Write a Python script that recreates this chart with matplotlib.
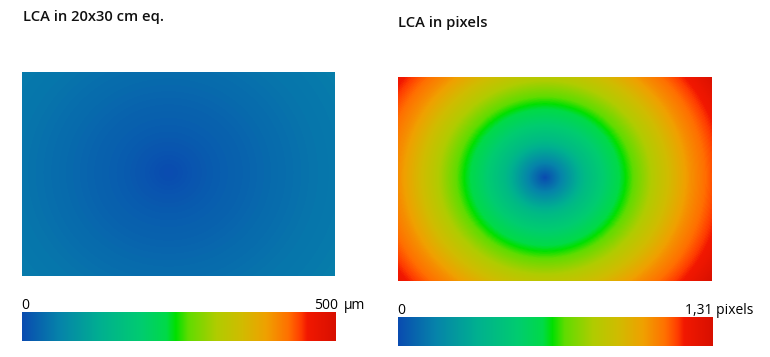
import numpy as np
import matplotlib
matplotlib.use('Agg')
import matplotlib.pyplot as plt
from matplotlib.colors import LinearSegmentedColormap

plt.rcParams['font.family'] = ['Open Sans', 'DejaVu Sans']

# radial LCA profile (radius in map pixels, value in sensor pixels)
radius_px = [0, 40, 80, 110, 145, 182, 201]
lca_pixels = [0.0, 0.39, 0.64, 0.84, 1.05, 1.21, 1.31]
lca_um_per_px = 42.0  # scale to 20x30 cm equivalent

# map geometry (optical centre offset inside the frame)
map_w, map_h = 313, 204
centre_x, centre_y = 146, 100
y_stretch = 1.09

# colour scale stops
cmap_pos = [0.0, 0.12, 0.25, 0.38, 0.46, 0.49, 0.53, 0.62, 0.70, 0.78, 0.85, 0.89, 0.91, 1.0]
cmap_col = ['#0a4cb0', '#0684aa', '#00b090', '#00cc70', '#00da48', '#00e000', '#60dc00',
            '#b0cc00', '#d0bc00', '#f0a000', '#ff7000', '#ff3c00', '#f21800', '#d81000']
lca_cmap = LinearSegmentedColormap.from_list('lca', list(zip(cmap_pos, cmap_col)))

um_max = 500
px_max = 1.31

xx, yy = np.meshgrid(np.arange(map_w) - centre_x, (np.arange(map_h) - centre_y) * y_stretch)
rr = np.hypot(xx, yy)
field_px = np.interp(rr, radius_px, lca_pixels)
field_um = field_px * lca_um_per_px

W, H = 770, 357
fig = plt.figure(figsize=(W / 100, H / 100), dpi=100)

def box(x0, y0, x1, y1):
    return [x0 / W, 1 - y1 / H, (x1 - x0) / W, (y1 - y0) / H]

# left map
ax1 = fig.add_axes(box(22, 72, 335, 276))
ax1.imshow(field_um, cmap=lca_cmap, vmin=0, vmax=um_max, aspect='auto', interpolation='bilinear')
ax1.axis('off')

# right map
ax2 = fig.add_axes(box(398, 77, 711, 281))
ax2.imshow(field_px, cmap=lca_cmap, vmin=0, vmax=px_max, aspect='auto', interpolation='bilinear')
ax2.axis('off')

grad = np.linspace(0, 1, 512)[None, :]

cb1 = fig.add_axes(box(22, 312, 336, 341))
cb1.imshow(grad, cmap=lca_cmap, aspect='auto')
cb1.axis('off')

cb2 = fig.add_axes(box(398, 317, 712, 346))
cb2.imshow(grad, cmap=lca_cmap, aspect='auto')
cb2.axis('off')

fs_title = 10.6
fs = 10
fig.text(23 / W, 1 - 17 / H, 'LCA in 20x30 cm eq.', fontsize=fs_title, va='center', ha='left',
         fontweight='semibold', color='#111111')
fig.text(398 / W, 1 - 23 / H, 'LCA in pixels', fontsize=fs_title, va='center', ha='left',
         fontweight='semibold', color='#111111')

fig.text(21 / W, 1 - 309 / H, '0', fontsize=fs, va='baseline', ha='left')
fig.text(338 / W, 1 - 309 / H, '500', fontsize=fs, va='baseline', ha='right')
fig.text(344 / W, 1 - 309 / H, 'µm', fontsize=fs, va='baseline', ha='left')

fig.text(397 / W, 1 - 314 / H, '0', fontsize=fs, va='baseline', ha='left')
fig.text(685 / W, 1 - 314 / H, '1,31 pixels', fontsize=fs, va='baseline', ha='left')

fig.savefig('out.png', dpi=100)
